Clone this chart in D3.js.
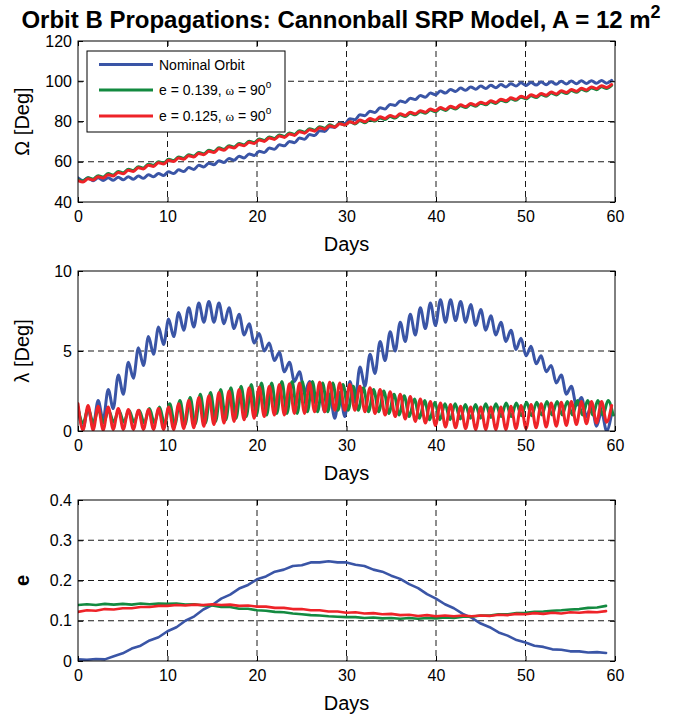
<!DOCTYPE html>
<html><head><meta charset="utf-8">
<script src="https://cdn.jsdelivr.net/npm/d3@7"></script>
<style>body{margin:0;background:#fff}</style>
</head><body><svg id="c" width="679" height="716"></svg>
<script>
// ---------- data ----------
const xTicks = [0, 10, 20, 30, 40, 50, 60];
const omegaTicks = [40, 60, 80, 100, 120];
const lambdaTicks = [0, 5, 10];
const eccTicks = [0, 0.1, 0.2, 0.3, 0.4];
const eccTickLabels = ["0", "0.1", "0.2", "0.3", "0.4"];
const titleText = "Orbit B Propagations: Cannonball SRP Model, A = 12 m";
const legendNames = ["Nominal Orbit", "e = 0.139, ", "e = 0.125, "];

// sample spacing (days) of the read values: successive peak / trough of the orbital oscillation
const stepNominal = 0.5625;
const stepE125 = 0.5625;
const stepE139Omega = 0.5625;
const stepE139Lambda = 0.5695;
const stepEcc = 1;

const omegaNominal = [52.0,50.6,52.0,50.6,52.0,50.7,52.1,50.8,52.3,51.0,52.6,51.3,52.9,51.8,53.6,52.5,54.2,53.2,55.0,54.1,56.0,55.1,57.1,56.2,58.2,57.4,59.3,58.5,60.5,59.6,61.6,60.7,62.7,61.9,63.9,63.1,65.2,64.6,66.8,66.2,68.4,67.9,70.1,69.5,71.8,71.2,73.5,73.0,75.4,75.0,77.4,77.0,79.4,79.0,81.4,80.9,83.3,82.9,85.1,84.5,86.8,86.2,88.5,88.0,90.2,89.5,91.6,90.9,92.9,92.1,94.1,93.3,95.1,94.1,95.9,94.9,96.6,95.5,97.2,96.0,97.6,96.4,98.0,96.8,98.4,97.2,98.8,97.6,99.2,97.9,99.4,98.1,99.6,98.3,99.8,98.5,100.0,98.65,100.1,98.75,100.2,98.85,100.3,98.95,100.4,99.05,100.4];
const omegaE125 = [50.6,49.9,51.6,50.9,52.6,51.9,53.6,52.9,54.7,54.0,55.8,55.2,57.0,56.4,58.3,57.7,59.5,58.9,60.7,60.1,61.9,61.2,63.0,62.3,64.1,63.5,65.2,64.6,66.4,65.7,67.5,66.8,68.6,68.0,69.7,69.1,70.8,70.1,71.8,71.1,72.8,72.1,73.8,73.1,74.9,74.2,75.9,75.2,76.9,76.2,77.9,77.2,78.9,78.2,79.9,79.1,80.7,79.9,81.5,80.7,82.3,81.5,83.0,82.2,83.8,83.0,84.6,83.8,85.4,84.6,86.2,85.4,86.9,86.0,87.6,86.7,88.3,87.4,88.9,88.1,89.6,88.8,90.3,89.5,91.1,90.3,91.8,91.0,92.6,91.7,93.3,92.4,93.9,93.1,94.6,93.7,95.3,94.4,95.9,95.0,96.5,95.7,97.2,96.3,97.8,96.9,98.4];
const omegaE139 = [51.1,50.4,52.1,51.4,53.1,52.4,54.1,53.4,55.2,54.5,56.3,55.7,57.5,56.9,58.8,58.2,60.0,59.4,61.2,60.6,62.4,61.7,63.5,62.8,64.6,64.0,65.7,65.1,66.9,66.2,68.0,67.3,69.1,68.5,70.2,69.6,71.3,70.6,72.3,71.6,73.3,72.6,74.3,73.6,75.4,74.7,76.4,75.7,77.4,76.7,78.4,77.4,79.1,78.2,79.9,78.8,80.4,79.4,81.0,80.2,81.8,81.0,82.5,81.7,83.3,82.5,84.1,83.3,84.9,84.1,85.7,84.9,86.4,85.5,87.1,86.2,87.8,86.9,88.4,87.6,89.1,88.3,89.8,89.0,90.6,89.8,91.3,90.5,92.1,91.2,92.8,91.9,93.4,92.6,94.1,93.2,94.8,93.9,95.4,94.5,96.0,95.2,96.7,95.8,97.3,96.4,97.9];

const lambdaNominal = [1.5,0.2,1.4,0.3,1.9,0.7,2.6,1.4,3.5,2.3,4.3,3.3,5.2,4.1,5.9,4.8,6.5,5.4,7.0,5.9,7.4,6.3,7.7,6.5,8.0,6.8,8.1,6.8,8.0,6.7,7.7,6.4,7.3,6.0,6.7,5.5,6.1,5.0,5.5,4.4,4.9,3.7,4.3,3.1,3.7,2.4,3.1,1.8,2.6,1.2,2.3,0.8,2.4,0.9,3.1,1.8,4.0,2.8,4.8,3.6,5.6,4.4,6.2,5.0,6.8,5.6,7.3,6.0,7.7,6.4,8.0,6.6,8.2,6.8,8.2,6.9,8.1,6.8,7.9,6.6,7.6,6.3,7.2,6.0,6.8,5.6,6.3,5.1,5.8,4.7,5.3,4.2,4.7,3.7,4.1,3.0,3.5,2.3,2.8,1.6,2.1,0.9,1.6,0.3,1.2,0.0,1.1];
const lambdaE125 = [1.7,0.05,1.6,0.05,1.55,0.05,1.5,0.1,1.4,0.1,1.35,0.1,1.3,0.1,1.35,0.1,1.4,0.1,1.5,0.1,1.7,0.15,1.9,0.2,2.1,0.3,2.2,0.4,2.4,0.5,2.5,0.6,2.6,0.7,2.7,0.8,2.75,0.9,2.8,1.0,2.9,1.0,2.95,1.1,3.0,1.1,3.0,1.2,3.05,1.2,3.05,1.3,3.0,1.3,2.9,1.3,2.8,1.2,2.7,1.1,2.6,1.0,2.45,0.9,2.3,0.75,2.15,0.6,2.0,0.5,1.85,0.35,1.75,0.25,1.65,0.2,1.55,0.15,1.5,0.1,1.5,0.1,1.5,0.1,1.5,0.1,1.55,0.15,1.6,0.15,1.65,0.2,1.7,0.25,1.75,0.3,1.8,0.35,1.85,0.4,1.85,0.45,1.85,0.5,1.85,0.55,1.6];
const lambdaE139 = [1.4,0.5,1.4,0.5,1.35,0.5,1.3,0.55,1.3,0.55,1.3,0.55,1.3,0.5,1.4,0.5,1.5,0.4,1.7,0.4,1.9,0.4,2.1,0.45,2.3,0.5,2.4,0.6,2.6,0.7,2.7,0.8,2.8,0.9,2.9,1.0,3.0,1.0,3.0,1.1,3.1,1.1,3.1,1.1,3.1,1.2,3.1,1.2,3.0,1.2,3.0,1.3,2.9,1.3,2.8,1.3,2.7,1.2,2.6,1.2,2.5,1.1,2.3,1.0,2.2,0.9,2.0,0.8,1.9,0.7,1.8,0.7,1.7,0.7,1.7,0.75,1.65,0.8,1.65,0.8,1.7,0.85,1.7,0.9,1.75,0.9,1.75,0.95,1.8,0.95,1.8,1.0,1.85,1.0,1.85,1.0,1.85,1.0,1.9,1.0,1.9,1.0,1.9,1.0,1.9,1.0];

const eccNominal = [0.004,0.003,0.005,0.004,0.012,0.019,0.031,0.038,0.051,0.059,0.074,0.084,0.100,0.111,0.128,0.139,0.155,0.165,0.180,0.189,0.203,0.210,0.222,0.227,0.236,0.238,0.245,0.245,0.248,0.245,0.245,0.239,0.236,0.227,0.222,0.212,0.204,0.191,0.181,0.166,0.155,0.141,0.131,0.117,0.107,0.093,0.084,0.071,0.063,0.052,0.046,0.038,0.035,0.029,0.028,0.024,0.024,0.021,0.022,0.020];
const eccE139 = [0.139,0.141,0.139,0.142,0.140,0.142,0.140,0.143,0.141,0.143,0.142,0.143,0.140,0.141,0.138,0.138,0.134,0.134,0.130,0.130,0.126,0.125,0.122,0.121,0.118,0.116,0.114,0.113,0.111,0.110,0.109,0.109,0.107,0.108,0.106,0.107,0.105,0.107,0.105,0.107,0.106,0.108,0.107,0.110,0.110,0.113,0.113,0.116,0.116,0.119,0.120,0.122,0.123,0.125,0.126,0.128,0.129,0.132,0.133,0.137];
const eccE125 = [0.122,0.126,0.125,0.129,0.128,0.131,0.131,0.134,0.134,0.137,0.137,0.139,0.138,0.140,0.139,0.141,0.139,0.140,0.137,0.138,0.135,0.135,0.132,0.132,0.129,0.129,0.126,0.126,0.123,0.123,0.120,0.121,0.118,0.119,0.116,0.117,0.114,0.115,0.112,0.114,0.111,0.113,0.111,0.113,0.111,0.113,0.112,0.115,0.114,0.117,0.116,0.119,0.117,0.120,0.118,0.121,0.120,0.122,0.121,0.124];

// ---------- drawing ----------
const COLORS = { nominal: "#3a55a6", e139: "#138a40", e125: "#ee2328" };
const FONT = "'Liberation Sans', Arial, Helvetica, sans-serif";
const svg = d3.select("#c");
const X0 = 78, X1 = 615;
const x = d3.scaleLinear().domain([0, 60]).range([X0, X1]);
const withDays = (vals, step) => vals.map((v, i) => ({ d: i * step, v }));

const panels = [
  { top: 41, bottom: 202, domain: [40, 120], ticks: omegaTicks, labels: omegaTicks.map(String),
    ylabel: "omega", width: 3, curve: d3.curveMonotoneX,
    series: [
      { data: withDays(omegaNominal, stepNominal), color: COLORS.nominal },
      { data: withDays(omegaE139, stepE139Omega), color: COLORS.e139 },
      { data: withDays(omegaE125, stepE125), color: COLORS.e125 } ] },
  { top: 271, bottom: 431, domain: [0, 10], ticks: lambdaTicks, labels: lambdaTicks.map(String),
    ylabel: "lambda", width: 3, curve: d3.curveMonotoneX,
    series: [
      { data: withDays(lambdaNominal, stepNominal), color: COLORS.nominal },
      { data: withDays(lambdaE139, stepE139Lambda), color: COLORS.e139 },
      { data: withDays(lambdaE125, stepE125), color: COLORS.e125 } ] },
  { top: 500, bottom: 661, domain: [0, 0.4], ticks: eccTicks, labels: eccTickLabels,
    ylabel: "e", width: 2.6, curve: d3.curveLinear,
    series: [
      { data: withDays(eccNominal, stepEcc), color: COLORS.nominal },
      { data: withDays(eccE139, stepEcc), color: COLORS.e139 },
      { data: withDays(eccE125, stepEcc), color: COLORS.e125 } ] }
];

panels.forEach((p, pi) => {
  const y = d3.scaleLinear().domain(p.domain).range([p.bottom, p.top]);
  const g = svg.append("g");
  g.append("g").selectAll("line").data(xTicks.slice(1, -1)).join("line")
    .attr("x1", d => x(d)).attr("x2", d => x(d)).attr("y1", p.top).attr("y2", p.bottom)
    .attr("stroke", "#000").attr("stroke-width", 0.9).attr("stroke-dasharray", "6,4");
  g.append("g").selectAll("line").data(p.ticks.slice(1, -1)).join("line")
    .attr("y1", d => y(d)).attr("y2", d => y(d)).attr("x1", X0).attr("x2", X1)
    .attr("stroke", "#000").attr("stroke-width", 0.9).attr("stroke-dasharray", "6,4");
  const cid = "clip" + pi;
  svg.append("clipPath").attr("id", cid).append("rect")
    .attr("x", X0).attr("y", p.top).attr("width", X1 - X0).attr("height", p.bottom - p.top);
  const line = d3.line().x(d => x(d.d)).y(d => y(d.v)).curve(p.curve);
  const lg = g.append("g").attr("clip-path", `url(#${cid})`);
  p.series.forEach(s => {
    lg.append("path").attr("d", line(s.data)).attr("fill", "none")
      .attr("stroke", s.color).attr("stroke-width", p.width)
      .attr("stroke-linejoin", "round").attr("stroke-linecap", "round");
  });
  g.append("rect").attr("x", X0).attr("y", p.top).attr("width", X1 - X0).attr("height", p.bottom - p.top)
    .attr("fill", "none").attr("stroke", "#000").attr("stroke-width", 1);
  const style = sel => {
    sel.select(".domain").remove();
    sel.selectAll("line").attr("stroke", "#000");
    sel.selectAll("text").attr("fill", "#000").style("font-family", FONT).style("font-size", "16px");
  };
  g.append("g").attr("transform", `translate(0,${p.bottom})`)
    .call(d3.axisBottom(x).tickValues(xTicks).tickSizeInner(-5).tickSizeOuter(0).tickPadding(9)).call(style);
  g.append("g").attr("transform", `translate(0,${p.top})`)
    .call(d3.axisTop(x).tickValues(xTicks).tickSizeInner(-5).tickSizeOuter(0).tickFormat("")).call(style);
  g.append("g").attr("transform", `translate(${X0},0)`)
    .call(d3.axisLeft(y).tickValues(p.ticks).tickSizeInner(-5).tickSizeOuter(0).tickPadding(6)
      .tickFormat((d, i) => p.labels[i])).call(style);
  g.append("g").attr("transform", `translate(${X1},0)`)
    .call(d3.axisRight(y).tickValues(p.ticks).tickSizeInner(-5).tickSizeOuter(0).tickFormat("")).call(style);
  g.append("text").attr("x", (X0 + X1) / 2).attr("y", p.bottom + 49).attr("text-anchor", "middle")
    .style("font-family", FONT).style("font-size", "20px").text("Days");
  const cy = (p.top + p.bottom) / 2;
  const yl = g.append("text").attr("transform", `translate(29,${cy}) rotate(-90)`)
    .attr("text-anchor", "middle").style("font-family", FONT).style("font-size", "20px");
  if (p.ylabel === "omega") yl.text("\u03A9 [Deg]");
  else if (p.ylabel === "lambda") yl.text("\u03BB [Deg]");
  else yl.style("font-weight", "bold").text("e");
});

// title
const t = svg.append("text").attr("x", 341).attr("y", 28).attr("text-anchor", "middle")
  .style("font-family", FONT).style("font-size", "24px").style("font-weight", "bold");
t.append("tspan").text(titleText);
t.append("tspan").attr("dy", -10).style("font-size", "18px").text("2");

// legend
const leg = svg.append("g");
leg.append("rect").attr("x", 87).attr("y", 51).attr("width", 198).attr("height", 81)
  .attr("fill", "#fff").attr("stroke", "#000").attr("stroke-width", 1);
const legRows = [
  { name: legendNames[0], color: COLORS.nominal, y: 64.5, omega: false },
  { name: legendNames[1], color: COLORS.e139, y: 90, omega: true },
  { name: legendNames[2], color: COLORS.e125, y: 116, omega: true }
];
legRows.forEach(r => {
  leg.append("line").attr("x1", 99).attr("x2", 153).attr("y1", r.y).attr("y2", r.y)
    .attr("stroke", r.color).attr("stroke-width", 3);
  const tx = leg.append("text").attr("x", 159).attr("y", r.y + 5)
    .style("font-family", FONT).style("font-size", "14px");
  tx.append("tspan").text(r.name);
  if (r.omega) {
    tx.append("tspan").style("font-family", "'Liberation Serif', serif").style("font-size", "13px").text("\u03C9");
    tx.append("tspan").text(" = 90");
    tx.append("tspan").attr("dy", -7).style("font-size", "10px").text("o");
  }
});
</script></body></html>
